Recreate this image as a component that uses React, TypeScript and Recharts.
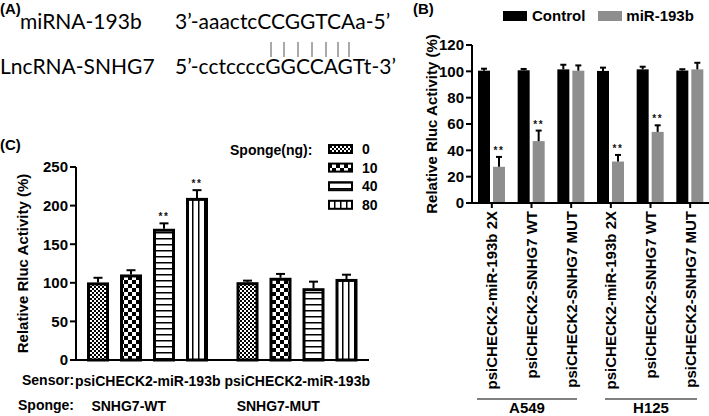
import React from 'react';
import { BarChart, Bar, XAxis, YAxis } from 'recharts';

// panel B: luciferase activity per construct / cell line
const constructs = [
  'psiCHECK2-miR-193b 2X',
  'psiCHECK2-SNHG7 WT',
  'psiCHECK2-SNHG7 MUT',
  'psiCHECK2-miR-193b 2X',
  'psiCHECK2-SNHG7 WT',
  'psiCHECK2-SNHG7 MUT',
];
const controlVals = [100.5, 100.8, 101.5, 100.3, 101.5, 100.6];
const controlErr = [1.5, 1, 3.5, 2.5, 2, 1];
const mirVals = [27.5, 47, 100.5, 31.5, 54, 101.5];
const mirErr = [7.5, 8, 4, 5, 5, 5];
const mirSig = ['**', '**', '', '**', '**', ''];
const cellLines = ['A549', 'H125'];
const bTicks = [0, 20, 40, 60, 80, 100, 120];

// panel C: sponge dose response
const sensorNames = ['psiCHECK2-miR-193b', 'psiCHECK2-miR-193b'];
const spongeNames = ['SNHG7-WT', 'SNHG7-MUT'];
const doseLabels = ['0', '10', '40', '80'];
const dose0Vals = [100.5, 100.8];
const dose10Vals = [110.8, 106.5];
const dose40Vals = [170, 93];
const dose80Vals = [210, 105];
const dose0Err = [6, 2];
const dose10Err = [5.5, 5];
const dose40Err = [7, 8.5];
const dose80Err = [10, 5.5];
const dose40Sig = ['**', ''];
const dose80Sig = ['**', ''];
const cTicks = [0, 50, 100, 150, 200, 250];

const FONT = '"Liberation Sans", Arial, sans-serif';
const GRAY = '#8e8e8e';

const dataB = constructs.map((c, i) => ({
  construct: c,
  control: controlVals[i],
  controlErr: controlErr[i],
  mir: mirVals[i],
  mirErr: mirErr[i],
  mirSig: mirSig[i],
}));

const dataC = sensorNames.map((s, i) => ({
  sensor: s,
  sponge: spongeNames[i],
  d0: dose0Vals[i],
  d0Err: dose0Err[i],
  d10: dose10Vals[i],
  d10Err: dose10Err[i],
  d40: dose40Vals[i],
  d40Err: dose40Err[i],
  d40Sig: dose40Sig[i],
  d80: dose80Vals[i],
  d80Err: dose80Err[i],
  d80Sig: dose80Sig[i],
}));

const patternIds = ['pat0', 'pat10', 'pat40', 'pat80'];
const doseKeys = ['d0', 'd10', 'd40', 'd80'];

function barShape(key: string, opts: { outline: boolean; cap: number }) {
  return (props: any) => {
    const { x, y, width, height, payload, fill } = props;
    const value = payload[key];
    const err = payload[key + 'Err'] || 0;
    const sig = payload[key + 'Sig'] || '';
    const errPx = value ? (height * err) / value : 0;
    const cx = x + width / 2;
    const top = y - errPx;
    return (
      <g>
        {opts.outline ? (
          <rect x={x + 1.5} y={y + 1.5} width={width - 3} height={height - 1.5} fill={fill} stroke="#000" strokeWidth={3} />
        ) : (
          <rect x={x} y={y} width={width} height={height} fill={fill} />
        )}
        <line x1={cx} x2={cx} y1={y} y2={top} stroke="#000" strokeWidth={2} />
        <line x1={cx - opts.cap / 2} x2={cx + opts.cap / 2} y1={top} y2={top} stroke="#000" strokeWidth={2} />
        {sig && (
          <text x={cx} y={top - 3} textAnchor="middle" fontSize={10} fontWeight="bold" fontFamily={FONT} fill="#111" letterSpacing={1.5}>
            {sig}
          </text>
        )}
      </g>
    );
  };
}

function RotatedTick(props: any) {
  const { x, y, payload } = props;
  const y0 = y + 1;
  return (
    <text
      x={x}
      y={y0}
      transform={`rotate(-90 ${x} ${y0})`}
      textAnchor="end"
      dominantBaseline="central"
      fontFamily={FONT}
      fontWeight="bold"
      fontSize={15}
      fill="#000"
    >
      {payload.value}
    </text>
  );
}

function SensorTick(props: any) {
  const { x, y, payload, index } = props;
  return (
    <g>
      <text x={x} y={y + 18} textAnchor="middle" fontFamily={FONT} fontWeight="bold" fontSize={14} fill="#000">
        {payload.value}
      </text>
      <text x={x - 19} y={y + 43} textAnchor="middle" fontFamily={FONT} fontWeight="bold" fontSize={14} fill="#000">
        {spongeNames[index]}
      </text>
    </g>
  );
}

const axisLine = { stroke: '#000', strokeWidth: 2 };
const tickStyle = { fill: '#000', fontFamily: FONT, fontWeight: 'bold', fontSize: 15 };
const axisLabel = (value: string) => ({
  value,
  angle: -90,
  position: 'insideLeft' as const,
  offset: 5,
  style: { textAnchor: 'middle', fill: '#000', fontFamily: FONT, fontWeight: 'bold', fontSize: 15 },
});

export default function App() {
  return (
    <div style={{ position: 'absolute', left: 0, top: 0, width: 709, height: 416, overflow: 'hidden', background: '#fff', fontFamily: FONT }}>
      {/* panel A: sequence alignment */}
      <div style={{ position: 'absolute', left: 0, top: 0, fontWeight: 'bold', fontSize: 15 }}>(A)</div>
      <div style={{ position: 'absolute', left: 20, top: 8, fontFamily: 'Lato', fontSize: 21, whiteSpace: 'nowrap' }}>miRNA-193b</div>
      <div style={{ position: 'absolute', left: 175, top: 8, fontFamily: 'Lato', fontSize: 21, whiteSpace: 'nowrap' }}>
        3’-aaactcCCGGTCAa-5’
      </div>
      <div style={{ position: 'absolute', left: 0, top: 53, fontFamily: 'Lato', fontSize: 21, whiteSpace: 'nowrap' }}>LncRNA-SNHG7</div>
      <div style={{ position: 'absolute', left: 175, top: 53, fontFamily: 'Lato', fontSize: 21, whiteSpace: 'nowrap' }}>
        5’-cctccccGGCCAGTt-3’
      </div>
      <svg style={{ position: 'absolute', left: 0, top: 0 }} width={400} height={80}>
        {[271, 284, 298, 312, 326, 338, 349].map((lx) => (
          <line key={lx} x1={lx} x2={lx} y1={42} y2={57} stroke="#555" strokeWidth={1} />
        ))}
      </svg>

      {/* panel B */}
      <div style={{ position: 'absolute', left: 413, top: 0, fontWeight: 'bold', fontSize: 15 }}>(B)</div>
      <div style={{ position: 'absolute', left: 503, top: 7, display: 'flex', alignItems: 'center', fontWeight: 'bold', fontSize: 15 }}>
        <span style={{ width: 24, height: 10, background: '#000', display: 'inline-block', marginRight: 5 }} />
        <span style={{ marginRight: 13 }}>Control</span>
        <span style={{ width: 24, height: 10, background: GRAY, display: 'inline-block', marginRight: 4 }} />
        <span>miR-193b</span>
      </div>
      <div style={{ position: 'absolute', left: 420, top: 0 }}>
        <BarChart width={290} height={416} data={dataB} margin={{ top: 45, right: 0, bottom: 0, left: 7 }} barSize={12} barGap={3}>
          <YAxis
            domain={[0, 120]}
            ticks={bTicks}
            interval={0}
            width={45}
            tick={tickStyle}
            tickSize={6}
            axisLine={axisLine}
            tickLine={axisLine}
            label={axisLabel('Relative Rluc Activity (%)')}
          />
          <XAxis dataKey="construct" interval={0} height={213} tick={<RotatedTick />} tickSize={5} axisLine={axisLine} tickLine={axisLine} />
          <Bar dataKey="control" fill="#000" isAnimationActive={false} shape={barShape('control', { outline: false, cap: 6 })} />
          <Bar dataKey="mir" fill={GRAY} isAnimationActive={false} shape={barShape('mir', { outline: false, cap: 6 })} />
        </BarChart>
      </div>
      <svg style={{ position: 'absolute', left: 420, top: 390 }} width={289} height={26}>
        <line x1={57} x2={157} y1={9} y2={9} stroke="#000" strokeWidth={1} />
        <line x1={185} x2={277} y1={9} y2={9} stroke="#000" strokeWidth={1} />
        <text x={107} y={23} textAnchor="middle" fontFamily={FONT} fontWeight="bold" fontSize={15}>
          {cellLines[0]}
        </text>
        <text x={231} y={23} textAnchor="middle" fontFamily={FONT} fontWeight="bold" fontSize={15}>
          {cellLines[1]}
        </text>
      </svg>

      {/* panel C */}
      <div style={{ position: 'absolute', left: 0, top: 136, fontWeight: 'bold', fontSize: 15 }}>(C)</div>
      <div style={{ position: 'absolute', left: 230, top: 142, fontWeight: 'bold', fontSize: 14 }}>Sponge(ng):</div>
      <svg style={{ position: 'absolute', left: 328, top: 140 }} width={28} height={75}>
        {patternIds.map((p, i) => (
          <rect key={p} x={1} y={5 + i * 18.6} width={23} height={8} fill={`url(#${p})`} stroke="#000" strokeWidth={2} />
        ))}
      </svg>
      {doseLabels.map((d, i) => (
        <div key={d} style={{ position: 'absolute', left: 362, top: 141 + i * 18.6, fontWeight: 'bold', fontSize: 14 }}>
          {d}
        </div>
      ))}
      <div style={{ position: 'absolute', left: 0, top: 100 }}>
        <BarChart width={380} height={316} data={dataC} margin={{ top: 67, right: 11, bottom: 0, left: 18 }} barSize={22} barGap={11}>
          <defs>
            <pattern id="pat0" patternUnits="userSpaceOnUse" width={4} height={4}>
              <rect width={4} height={4} fill="#fff" />
              <rect width={2} height={2} fill="#000" />
              <rect x={2} y={2} width={2} height={2} fill="#000" />
            </pattern>
            <pattern id="pat10" patternUnits="userSpaceOnUse" width={8} height={8}>
              <rect width={8} height={8} fill="#fff" />
              <rect width={4} height={4} fill="#000" />
              <rect x={4} y={4} width={4} height={4} fill="#000" />
            </pattern>
            <pattern id="pat40" patternUnits="userSpaceOnUse" width={6} height={6}>
              <rect width={6} height={6} fill="#fff" />
              <rect width={6} height={1.5} fill="#000" />
            </pattern>
            <pattern id="pat80" patternUnits="userSpaceOnUse" width={6} height={6}>
              <rect width={6} height={6} fill="#fff" />
              <rect width={1.5} height={6} fill="#000" />
            </pattern>
          </defs>
          <YAxis
            domain={[0, 250]}
            ticks={cTicks}
            interval={0}
            width={58}
            tick={tickStyle}
            tickSize={6}
            axisLine={axisLine}
            tickLine={axisLine}
            label={axisLabel('Relative Rluc Activity (%)')}
          />
          <XAxis dataKey="sensor" interval={0} height={56} tick={<SensorTick />} tickLine={false} axisLine={axisLine} padding={{ left: -3, right: -3 }} />
          {doseKeys.map((k, i) => (
            <Bar
              key={k}
              dataKey={k}
              fill={`url(#${patternIds[i]})`}
              isAnimationActive={false}
              shape={barShape(k, { outline: true, cap: 9 })}
            />
          ))}
        </BarChart>
      </div>
      <div style={{ position: 'absolute', left: 22, top: 372, fontWeight: 'bold', fontSize: 14 }}>Sensor:</div>
      <div style={{ position: 'absolute', left: 18, top: 397, fontWeight: 'bold', fontSize: 14 }}>Sponge:</div>
    </div>
  );
}
